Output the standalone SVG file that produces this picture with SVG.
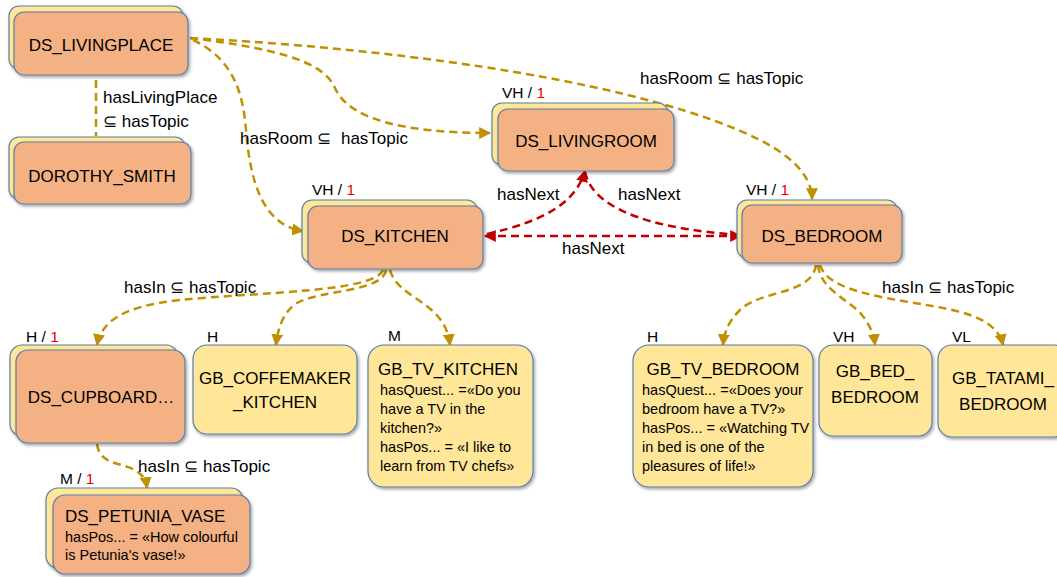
<svg xmlns="http://www.w3.org/2000/svg" width="1057" height="577" viewBox="0 0 1057 577">
<style>
text{font-family:"Liberation Sans",Arial,sans-serif;fill:#000}
.t{font-size:17px;text-anchor:middle}
.s{font-size:14.5px}
.l{font-size:17px}
.q{font-size:15.5px}
.r{fill:#E80000}
.back{fill:#FFE699;stroke:#5A7FA8;stroke-width:1.2}
.front{fill:#F4B183;stroke:#5A7FA8;stroke-width:1.2}
.gb{fill:#FFE699;stroke:#5A7FA8;stroke-width:1.2}
.gc{fill:none;stroke:#BF9000;stroke-width:2.5;stroke-dasharray:8 5}
.rc{fill:none;stroke:#C00000;stroke-width:2.5;stroke-dasharray:8 5}
</style>
<defs>
<filter id="sh" x="-10%" y="-10%" width="130%" height="140%">
<feDropShadow dx="1.5" dy="2" stdDeviation="1.5" flood-color="#000" flood-opacity="0.35"/>
</filter>
<marker id="ag" markerUnits="userSpaceOnUse" markerWidth="12" markerHeight="12" viewBox="0 0 10 10" refX="9" refY="5" orient="auto"><path d="M0,0 L10,5 L0,10 z" fill="#BF9000"/></marker>
<marker id="ar" markerUnits="userSpaceOnUse" markerWidth="12" markerHeight="12" viewBox="0 0 10 10" refX="9" refY="5" orient="auto-start-reverse"><path d="M0,0 L10,5 L0,10 z" fill="#C00000"/></marker>
</defs>

<g id="connectors">
<path class="gc" d="M96,80 L96,136"/>
<path class="gc" d="M190,38 C290,50 325,65 335,88 C348,118 400,133 490,133" marker-end="url(#ag)"/>
<path class="gc" d="M190,38 C420,50 650,85 760,140 C795,158 812,178 812,199" marker-end="url(#ag)"/>
<path class="gc" d="M193,40 C235,60 243,95 246,130 C250,180 262,225 303,231" marker-end="url(#ag)"/>
<path class="gc" d="M383,270 C375,292 260,292 180,300 C125,306 102,320 97,345" marker-end="url(#ag)"/>
<path class="gc" d="M386,270 C383,292 320,290 297,303 C283,312 278,328 276,345" marker-end="url(#ag)"/>
<path class="gc" d="M390,270 C398,300 445,300 450,345" marker-end="url(#ag)"/>
<path class="gc" d="M816,265 C812,295 760,290 740,310 C728,322 724,333 723,345" marker-end="url(#ag)"/>
<path class="gc" d="M818,265 C820,290 850,300 862,315 C870,325 874,335 875,345" marker-end="url(#ag)"/>
<path class="gc" d="M820,265 C830,300 930,300 970,315 C990,322 1000,332 1003,345" marker-end="url(#ag)"/>
<path class="gc" d="M97,444 C100,465 120,462 135,470 C143,475 146,480 147,488" marker-end="url(#ag)"/>
<path class="rc" d="M485,236 L741,236" marker-start="url(#ar)" marker-end="url(#ar)"/>
<path class="rc" d="M487,234 C540,222 575,205 585,171" marker-end="url(#ar)"/>
<path class="rc" d="M585,172 C592,205 640,228 740,235"/>
<text class="l" x="103" y="103">hasLivingPlace</text>
<text class="l" x="103" y="127">⊆ hasTopic</text>
<text class="l" x="240" y="144">hasRoom ⊆&#160;&#160;hasTopic</text>
<text class="l" x="640" y="84">hasRoom ⊆ hasTopic</text>
<text class="l" x="497" y="200">hasNext</text>
<text class="l" x="618" y="200">hasNext</text>
<text class="l" x="562" y="254">hasNext</text>
<text class="l" x="124" y="293">hasIn ⊆ hasTopic</text>
<text class="l" x="882" y="293">hasIn ⊆ hasTopic</text>
<text class="l" x="138" y="472">hasIn ⊆ hasTopic</text>
</g>

<g id="DS_LIVINGPLACE">
<rect class="back" x="9" y="6" width="174" height="63" rx="10" filter="url(#sh)"/>
<rect class="front" x="14" y="12" width="174" height="63" rx="10" filter="url(#sh)"/>
<text class="t" x="101" y="51">DS_LIVINGPLACE</text>
</g>

<g id="DOROTHY_SMITH">
<rect class="back" x="9" y="137" width="176" height="62" rx="10" filter="url(#sh)"/>
<rect class="front" x="14" y="142" width="177" height="62" rx="10" filter="url(#sh)"/>
<text class="t" x="102" y="182">DOROTHY_SMITH</text>
</g>

<g id="DS_LIVINGROOM">
<text class="q" x="502" y="98">VH / <tspan class="r">1</tspan></text>
<rect class="back" x="492" y="103" width="176" height="62" rx="10" filter="url(#sh)"/>
<rect class="front" x="498" y="109" width="176" height="62" rx="10" filter="url(#sh)"/>
<text class="t" x="586" y="147">DS_LIVINGROOM</text>
</g>

<g id="DS_KITCHEN">
<text class="q" x="312" y="195">VH / <tspan class="r">1</tspan></text>
<rect class="back" x="302" y="200" width="175" height="63" rx="10" filter="url(#sh)"/>
<rect class="front" x="308" y="206" width="175" height="63" rx="10" filter="url(#sh)"/>
<text class="t" x="395" y="242">DS_KITCHEN</text>
</g>

<g id="DS_BEDROOM">
<text class="q" x="746" y="195">VH / <tspan class="r">1</tspan></text>
<rect class="back" x="737" y="200" width="160" height="58" rx="10" filter="url(#sh)"/>
<rect class="front" x="742" y="205" width="160" height="58" rx="10" filter="url(#sh)"/>
<text class="t" x="822" y="242">DS_BEDROOM</text>
</g>

<g id="DS_CUPBOARD">
<text class="q" x="26" y="342">H / <tspan class="r">1</tspan></text>
<rect class="back" x="10" y="345" width="168" height="91" rx="12" filter="url(#sh)"/>
<rect class="front" x="16" y="350" width="169" height="93" rx="12" filter="url(#sh)"/>
<text class="t" x="101" y="403">DS_CUPBOARD…</text>
</g>

<g id="GB_COFFEMAKER_KITCHEN">
<text class="q" x="207" y="342">H</text>
<rect class="gb" x="193" y="345" width="164" height="89" rx="14" filter="url(#sh)"/>
<text class="t" x="275" y="384">GB_COFFEMAKER</text>
<text class="t" x="275" y="408">_KITCHEN</text>
</g>

<g id="GB_TV_KITCHEN">
<text class="q" x="388" y="341">M</text>
<rect class="gb" x="368" y="345" width="165" height="142" rx="16" filter="url(#sh)"/>
<text class="t" x="448" y="375">GB_TV_KITCHEN</text>
<text class="s" x="380" y="395">hasQuest... =«Do you</text>
<text class="s" x="380" y="414">have a TV in the</text>
<text class="s" x="380" y="433">kitchen?»</text>
<text class="s" x="380" y="452">hasPos... = «I like to</text>
<text class="s" x="380" y="471">learn from TV chefs»</text>
</g>

<g id="GB_TV_BEDROOM">
<text class="q" x="647" y="342">H</text>
<rect class="gb" x="633" y="345" width="180" height="142" rx="16" filter="url(#sh)"/>
<text class="t" x="723" y="375">GB_TV_BEDROOM</text>
<text class="s" x="642" y="395">hasQuest... =«Does your</text>
<text class="s" x="642" y="414">bedroom have a TV?»</text>
<text class="s" x="642" y="433">hasPos... = «Watching TV</text>
<text class="s" x="642" y="452">in bed is one of the</text>
<text class="s" x="642" y="471">pleasures of life!»</text>
</g>

<g id="GB_BED_BEDROOM">
<text class="q" x="833" y="342">VH</text>
<rect class="gb" x="819" y="345" width="113" height="91" rx="14" filter="url(#sh)"/>
<text class="t" x="875" y="377">GB_BED_</text>
<text class="t" x="875" y="403">BEDROOM</text>
</g>

<g id="GB_TATAMI_BEDROOM">
<text class="q" x="952" y="342">VL</text>
<rect class="gb" x="938" y="345" width="130" height="92" rx="14" filter="url(#sh)"/>
<text class="t" x="1003" y="384">GB_TATAMI_</text>
<text class="t" x="1003" y="410">BEDROOM</text>
</g>

<g id="DS_PETUNIA_VASE">
<text class="q" x="60" y="484">M / <tspan class="r">1</tspan></text>
<rect class="back" x="46" y="488" width="197" height="80" rx="12" filter="url(#sh)"/>
<rect class="front" x="53" y="495" width="197" height="79" rx="12" filter="url(#sh)"/>
<text class="l" x="65" y="522">DS_PETUNIA_VASE</text>
<text class="s" x="65" y="542">hasPos... = «How colourful</text>
<text class="s" x="65" y="560">is Petunia's vase!»</text>
</g>
</svg>
